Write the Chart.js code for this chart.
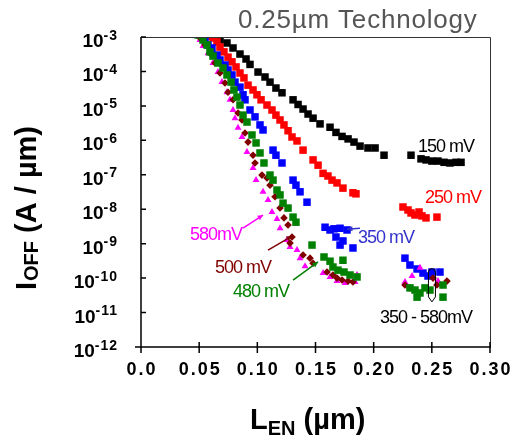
<!DOCTYPE html>
<html>
<head>
<meta charset="utf-8">
<script src="https://cdn.jsdelivr.net/npm/chart.js@4.4.0/dist/chart.umd.min.js"></script>
<style>
  html, body { margin: 0; padding: 0; background: #fff; }
  #wrap { width: 519px; height: 438px; position: relative; }
</style>
</head>
<body>
<div id="wrap"><canvas id="chart"></canvas></div>
<script>
// L_EN (um) and I_OFF (A/um), one pair of arrays per bias
const len150 = [0.0619,0.0679,0.0739,0.0791,0.0851,0.0903,0.0937,0.1006,0.1066,0.1109,0.1160,0.1212,0.1307,0.1350,0.1393,0.1436,0.1479,0.1539,0.1625,0.1676,0.1728,0.1780,0.1831,0.1883,0.1951,0.2012,0.2089,0.2321,0.2407,0.2450,0.2501,0.2553,0.2605,0.2656,0.2708,0.2751];
const ioff150 = [1.07e-3,8.2e-4,6.7e-4,4.8e-4,3.2e-4,2.3e-4,1.6e-4,9.6e-5,6.9e-5,4.9e-5,3.3e-5,2.4e-5,1.5e-5,1.1e-5,8.1e-6,5.8e-6,4.4e-6,3.0e-6,2.4e-6,1.7e-6,1.3e-6,1.1e-6,8.9e-7,6.8e-7,6.0e-7,6.0e-7,3.7e-7,3.7e-7,2.9e-7,2.7e-7,2.5e-7,2.5e-7,2.3e-7,2.2e-7,2.3e-7,2.3e-7];

const len250 = [0.0567,0.0619,0.0653,0.0679,0.0713,0.0748,0.0782,0.0817,0.0851,0.0885,0.0920,0.0963,0.0997,0.1032,0.1083,0.1126,0.1160,0.1195,0.1229,0.1264,0.1298,0.1341,0.1393,0.1479,0.1522,0.1565,0.1607,0.1642,0.1685,0.1736,0.1822,0.1848,0.2252,0.2295,0.2321,0.2355,0.2390,0.2415,0.2450,0.2544];
const ioff250 = [1.07e-3,9.4e-4,7.2e-4,5.1e-4,3.7e-4,2.6e-4,1.9e-4,1.35e-4,9.0e-5,6.5e-5,4.0e-5,2.9e-5,2.1e-5,1.5e-5,1.06e-5,7.6e-6,5.4e-6,3.9e-6,2.8e-6,1.9e-6,1.25e-6,9.6e-7,5.2e-7,2.7e-7,1.9e-7,1.1e-7,9.2e-8,7.0e-8,5.8e-8,4.1e-8,3.0e-8,2.8e-8,1.16e-8,9.5e-9,7.8e-9,6.8e-9,8.3e-9,6.4e-9,5.6e-9,5.9e-9];

const len350 = [0.0507,0.0550,0.0576,0.0610,0.0653,0.0679,0.0722,0.0748,0.0782,0.0808,0.0851,0.0877,0.0894,0.0937,0.0980,0.1023,0.1049,0.1135,0.1160,0.1212,0.1307,0.1332,0.1367,0.1427,0.1582,0.1625,0.1659,0.1711,0.1771,0.1676,0.1736,0.1711,0.1822,0.2269,0.2312,0.2373,0.2424,0.2467,0.2501,0.2570];
const ioff350 = [1.15e-3,8.2e-4,5.9e-4,4.8e-4,3.0e-4,2.15e-4,1.54e-4,1.1e-4,7.9e-5,4.9e-5,3.5e-5,2.1e-5,1.5e-5,7.6e-6,4.8e-6,2.8e-6,2.0e-6,5.2e-7,3.7e-7,2.2e-7,7.0e-8,5.0e-8,3.2e-8,1.6e-8,3.0e-9,2.5e-9,2.7e-9,2.8e-9,2.5e-9,1.56e-9,1.2e-9,9.1e-10,7.5e-10,3.8e-10,2.4e-10,1.84e-10,1.4e-10,1.15e-10,1.5e-10,1.5e-10];

const len480 = [0.0490,0.0533,0.0567,0.0593,0.0619,0.0662,0.0705,0.0739,0.0774,0.0799,0.0825,0.0851,0.0877,0.0911,0.0954,0.0989,0.1023,0.1057,0.1109,0.1135,0.1169,0.1195,0.1221,0.1264,0.1307,0.1332,0.1470,0.1573,0.1625,0.1650,0.1736,0.1693,0.1745,0.1797,0.1857,0.2312,0.2355,0.2398,0.2373,0.2441,0.2484,0.2596,0.2596];
const ioff480 = [1.15e-3,8.2e-4,5.9e-4,3.7e-4,2.8e-4,1.76e-4,1.26e-4,7.9e-5,4.9e-5,2.9e-5,1.8e-5,1.06e-5,5.4e-6,3.4e-6,1.43e-6,8.4e-7,4.3e-7,2.2e-7,9.8e-8,7.0e-8,3.6e-8,2.6e-8,1.5e-8,1.08e-8,5.9e-9,4.2e-9,9.1e-10,4.1e-10,3.1e-10,2.1e-10,3.3e-10,1.7e-10,1.5e-10,1.23e-10,1.08e-10,5.2e-11,4.5e-11,3.7e-11,2.8e-11,5.2e-11,4.5e-11,6.3e-11,2.8e-11];

const len500 = [0.0507,0.0550,0.0593,0.0636,0.0679,0.0722,0.0748,0.0791,0.0834,0.0868,0.0894,0.0920,0.0963,0.0980,0.1040,0.1083,0.1109,0.1152,0.1195,0.1229,0.1264,0.1298,0.1281,0.1393,0.1453,0.1479,0.1599,0.1650,0.1685,0.1728,0.1780,0.1822,0.2269,0.2312,0.2510,0.2544,0.2630];
const ioff500 = [9.4e-4,5.9e-4,3.4e-4,1.76e-4,9.0e-5,4.6e-5,2.5e-5,1.5e-5,6.2e-6,3.9e-6,1.63e-6,8.9e-7,3.7e-7,2.2e-7,9.8e-8,8.1e-8,5.0e-8,2.3e-8,1.08e-8,5.6e-9,3.5e-9,1.56e-9,1.04e-9,4.7e-10,3.8e-10,2.7e-10,1.5e-10,1.23e-10,1.0e-10,8.8e-11,8.2e-11,7.7e-11,6.3e-11,5.2e-11,1.0e-10,6.3e-11,8.2e-11];

const len580 = [0.0473,0.0507,0.0533,0.0576,0.0619,0.0662,0.0696,0.0739,0.0765,0.0791,0.0808,0.0834,0.0868,0.0911,0.0963,0.0989,0.1049,0.1092,0.1126,0.1169,0.1195,0.1255,0.1281,0.1341,0.1367,0.1410,0.1565,0.1625,0.1685,0.1754,0.1840,0.1857,0.2269,0.2330,0.2398,0.2553];
const ioff580 = [1.15e-3,8.2e-4,5.5e-4,3.4e-4,1.76e-4,9.6e-5,4.9e-5,2.5e-5,1.5e-5,7.6e-6,4.4e-6,2.3e-6,1.25e-6,4.6e-7,1.57e-7,7.0e-8,3.2e-8,1.85e-8,8.3e-9,5.2e-9,2.8e-9,1.28e-9,8.0e-10,6.5e-10,3.8e-10,2.2e-10,1.4e-10,1.08e-10,8.2e-11,7.2e-11,7.7e-11,1.23e-10,7.7e-11,1.15e-10,2.0e-10,8.2e-11];

const xTicks = [0, 0.05, 0.10, 0.15, 0.20, 0.25, 0.30];
const xTickLabels = ['0.0', '0.05', '0.10', '0.15', '0.20', '0.25', '0.30'];
const yTicks = [1e-3, 1e-4, 1e-5, 1e-6, 1e-7, 1e-8, 1e-9, 1e-10, 1e-11, 1e-12];
const yTickExps = ['-3', '-4', '-5', '-6', '-7', '-8', '-9', '-10', '-11', '-12'];

const FONT = '"Liberation Sans", Arial, sans-serif';

// labels on the plot, placed in data units (x in um, e = log10 of current)
const notes = [
  { text: '150 mV', color: '#000000', x: 0.2381, e: -6.34 },
  { text: '250 mV', color: '#ff0000', x: 0.2441, e: -7.82 },
  { text: '350 mV', color: '#3333cc', x: 0.1865, e: -8.98 },
  { text: '580mV', color: '#ff00ff', x: 0.0421, e: -8.89 },
  { text: '500 mV', color: '#800000', x: 0.0636, e: -9.85 },
  { text: '480 mV', color: '#008000', x: 0.0791, e: -10.55 },
  { text: '350 - 580mV', color: '#000000', x: 0.2054, e: -11.30 }
];
const arrows = [
  { color: '#ff00ff', from: [0.0877, -8.55], to: [0.1049, -8.17] },
  { color: '#800000', from: [0.1092, -9.19], to: [0.1298, -8.78] },
  { color: '#008000', from: [0.1307, -10.06], to: [0.1522, -9.53] },
  { color: '#3333cc', from: [0.1882, -8.55], to: [0.1771, -8.58] }
];

function pts(xs, ys) {
  return xs.map(function(x, i) { return { x: x, y: ys[i] }; });
}

function set(label, xs, ys, color, style, r) {
  return {
    label: label,
    data: pts(xs, ys),
    backgroundColor: color,
    borderColor: color,
    borderWidth: 0,
    pointStyle: style,
    pointRadius: r
  };
}

const decor = {
  id: 'decor',
  afterDraw: function(chart) {
    const ctx = chart.ctx;
    const a = chart.chartArea;
    const xs = chart.scales.x;
    const ys = chart.scales.y;
    const px = function(x, e) { return [xs.getPixelForValue(x), ys.getPixelForValue(Math.pow(10, e))]; };

    ctx.save();
    // frame top and right
    ctx.strokeStyle = '#333';
    ctx.lineWidth = 1;
    ctx.beginPath();
    ctx.moveTo(a.left, a.top + 0.5);
    ctx.lineTo(a.right + 0.5, a.top + 0.5);
    ctx.lineTo(a.right + 0.5, a.bottom);
    ctx.stroke();

    // axes
    ctx.strokeStyle = '#000';
    ctx.lineWidth = 1.5;
    ctx.beginPath();
    ctx.moveTo(a.left - 6, a.bottom);
    ctx.lineTo(a.right + 1, a.bottom);
    ctx.moveTo(a.left, a.top);
    ctx.lineTo(a.left, a.bottom);
    xTicks.forEach(function(v) {
      const x = xs.getPixelForValue(v);
      ctx.moveTo(x, a.bottom - 5);
      ctx.lineTo(x, a.bottom + 6);
    });
    yTicks.forEach(function(v) {
      const y = ys.getPixelForValue(v);
      ctx.moveTo(a.left, y);
      ctx.lineTo(a.left + 5, y);
    });
    ctx.stroke();

    // y tick labels, 10 with raised exponent
    ctx.fillStyle = '#000';
    ctx.textBaseline = 'alphabetic';
    ctx.textAlign = 'right';
    yTicks.forEach(function(v, i) {
      const y = ys.getPixelForValue(v);
      ctx.font = 'bold 14px ' + FONT;
      ctx.letterSpacing = '1px';
      const w = ctx.measureText(yTickExps[i]).width;
      ctx.fillText(yTickExps[i], 118, y + 2.5);
      ctx.font = 'bold 19px ' + FONT;
      ctx.letterSpacing = '0px';
      ctx.fillText('10', 118 - w, y + 10);
    });

    // x tick labels
    ctx.textAlign = 'center';
    ctx.font = 'bold 18px ' + FONT;
    ctx.letterSpacing = '2px';
    xTicks.forEach(function(v, i) {
      ctx.fillText(xTickLabels[i], xs.getPixelForValue(v) + 1, 375);
    });
    ctx.letterSpacing = '0px';

    // x title: L_EN (um)
    ctx.textAlign = 'left';
    let x = 250;
    ctx.font = 'bold 29px ' + FONT;
    ctx.fillText('L', x, 429);
    x += ctx.measureText('L').width;
    ctx.font = 'bold 20px ' + FONT;
    ctx.fillText('EN', x, 435);
    x += ctx.measureText('EN').width;
    ctx.font = 'bold 29px ' + FONT;
    ctx.fillText(' (\u00b5m)', x, 429);

    // y title: I_OFF (A / um), rotated
    ctx.save();
    ctx.translate(36, 290);
    ctx.rotate(-Math.PI / 2);
    x = 0;
    ctx.font = 'bold 29px ' + FONT;
    ctx.fillText('I', x, 0);
    x += ctx.measureText('I').width + 1;
    ctx.font = 'bold 20px ' + FONT;
    ctx.fillText('OFF', x, 2);
    x += ctx.measureText('OFF').width;
    ctx.font = 'bold 29px ' + FONT;
    ctx.fillText(' (A / \u00b5m)', x, 0);
    ctx.restore();

    // chart title
    ctx.fillStyle = '#555';
    ctx.font = '26px ' + FONT;
    ctx.letterSpacing = '0.8px';
    ctx.fillText('0.25\u00b5m Technology', 238, 28);
    ctx.letterSpacing = '0px';

    // annotations
    ctx.font = '18px ' + FONT;
    ctx.letterSpacing = '-1px';
    notes.forEach(function(n) {
      const p = px(n.x, n.e);
      ctx.fillStyle = n.color;
      ctx.fillText(n.text, p[0], p[1]);
    });
    ctx.letterSpacing = '0px';

    arrows.forEach(function(ar) {
      const p0 = px(ar.from[0], ar.from[1]);
      const p1 = px(ar.to[0], ar.to[1]);
      const ang = Math.atan2(p1[1] - p0[1], p1[0] - p0[0]);
      ctx.strokeStyle = ar.color;
      ctx.fillStyle = ar.color;
      ctx.lineWidth = 1.5;
      ctx.beginPath();
      ctx.moveTo(p0[0], p0[1]);
      ctx.lineTo(p1[0], p1[1]);
      ctx.stroke();
      ctx.beginPath();
      ctx.moveTo(p1[0], p1[1]);
      ctx.lineTo(p1[0] - 6 * Math.cos(ang - 0.45), p1[1] - 6 * Math.sin(ang - 0.45));
      ctx.lineTo(p1[0] - 6 * Math.cos(ang + 0.45), p1[1] - 6 * Math.sin(ang + 0.45));
      ctx.closePath();
      ctx.fill();
    });

    // oval marking the 350-580mV cluster
    const top = px(0.2501, -9.71);
    const bot = px(0.2501, -10.69);
    ctx.strokeStyle = '#000';
    ctx.lineWidth = 1;
    ctx.beginPath();
    ctx.moveTo(top[0] - 3.5, top[1] + 4);
    ctx.arc(top[0], top[1] + 4, 3.5, Math.PI, 0);
    ctx.lineTo(top[0] + 3.5, bot[1] - 5);
    ctx.lineTo(top[0], bot[1]);
    ctx.lineTo(top[0] - 3.5, bot[1] - 5);
    ctx.closePath();
    ctx.stroke();
    ctx.restore();
  }
};

new Chart(document.getElementById('chart'), {
  type: 'scatter',
  data: {
    datasets: [
      set('480 mV', len480, ioff480, '#008000', 'rect', 5.3),
      set('500 mV', len500, ioff500, '#800000', 'rectRot', 3.8),
      set('580 mV', len580, ioff580, '#ff00ff', 'triangle', 4),
      set('350 mV', len350, ioff350, '#0000ff', 'rect', 5.3),
      set('250 mV', len250, ioff250, '#ff0000', 'rect', 5.3),
      set('150 mV', len150, ioff150, '#000000', 'rect', 5.3)
    ]
  },
  options: {
    responsive: true,
    maintainAspectRatio: false,
    animation: false,
    events: [],
    layout: { padding: { top: 37, right: 29, left: 0, bottom: 0 } },
    plugins: { legend: { display: false }, tooltip: { enabled: false } },
    scales: {
      x: {
        type: 'linear',
        min: 0,
        max: 0.3,
        afterBuildTicks: function(s) { s.ticks = xTicks.map(function(v) { return { value: v }; }); },
        afterFit: function(s) { s.height = 91; },
        ticks: { display: false },
        grid: { display: false },
        border: { display: false }
      },
      y: {
        type: 'logarithmic',
        min: 1e-12,
        max: 1e-3,
        afterBuildTicks: function(s) { s.ticks = yTicks.map(function(v) { return { value: v }; }); },
        afterFit: function(s) { s.width = 141; },
        ticks: { display: false },
        grid: { display: false },
        border: { display: false }
      }
    }
  },
  plugins: [decor]
});
</script>
</body>
</html>
